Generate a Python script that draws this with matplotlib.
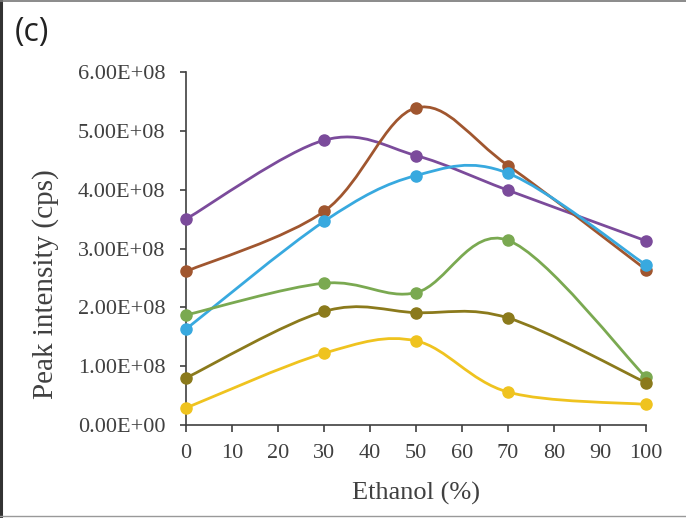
import numpy as np
import matplotlib
matplotlib.use("Agg")
import matplotlib.pyplot as plt
from matplotlib.path import Path
from matplotlib.patches import PathPatch
from matplotlib.lines import Line2D
from matplotlib.ticker import FuncFormatter, MultipleLocator

# ethanol content (%) and peak intensity (cps) for each series
ethanol = [0, 30, 50, 70, 100]
purple = [3.50e8, 4.84e8, 4.58e8, 3.99e8, 3.13e8]
brown = [2.61e8, 3.63e8, 5.39e8, 4.41e8, 2.64e8]
cyan = [1.63e8, 3.46e8, 4.24e8, 4.28e8, 2.72e8]
green = [1.87e8, 2.41e8, 2.25e8, 3.14e8, 0.81e8]
olive = [0.80e8, 1.93e8, 1.91e8, 1.82e8, 0.72e8]
yellow = [0.29e8, 1.22e8, 1.43e8, 0.56e8, 0.35e8]

series = [
    (purple, "#7b4b9b"),
    (brown, "#a0562f"),
    (cyan, "#38a9df"),
    (green, "#7aa951"),
    (olive, "#8b7a1c"),
    (yellow, "#efc31f"),
]

serif = ["Liberation Serif", "DejaVu Serif"]
axis_col = "#404040"


def smooth_path(xs, ys):
    # spreadsheet-style smoothed line: cubic bezier through each point
    p = np.column_stack([xs, ys]).astype(float)
    ext = np.vstack([p[0], p, p[-1]])
    verts = [p[0]]
    codes = [Path.MOVETO]
    for i in range(len(p) - 1):
        p0, p1, p2, p3 = ext[i], ext[i + 1], ext[i + 2], ext[i + 3]
        c1 = p1 + (p2 - p0) / 6.0
        c2 = p2 - (p3 - p1) / 6.0
        verts += [c1, c2, p2]
        codes += [Path.CURVE4] * 3
    return Path(verts, codes)


fig = plt.figure(figsize=(6.86, 5.18), dpi=100)
ax = fig.add_axes([0.2711, 0.1795, 0.6706, 0.6815])

for vals, col in series:
    ax.add_patch(PathPatch(smooth_path(ethanol, vals), facecolor="none",
                           edgecolor=col, lw=2.0, clip_on=False, zorder=2))
    ax.plot(ethanol, vals, "o", color=col, ms=8, mec=col, clip_on=False, zorder=3)

ax.set_xlim(0, 100)
ax.set_ylim(0, 6e8)
ax.xaxis.set_major_locator(MultipleLocator(10))
ax.yaxis.set_major_locator(MultipleLocator(1e8))
ax.yaxis.set_major_formatter(FuncFormatter(lambda v, pos: f"{v:.2E}"))

for side in ["top", "right"]:
    ax.spines[side].set_visible(False)
for side in ["left", "bottom"]:
    ax.spines[side].set_color(axis_col)
    ax.spines[side].set_linewidth(1.2)

ax.tick_params(axis="y", direction="out", length=4.5, width=1.2, color=axis_col,
               pad=10.5, labelsize=16, labelcolor=axis_col)
ax.tick_params(axis="x", direction="out", length=5, width=1.2, color=axis_col,
               pad=8.5, labelsize=16, labelcolor=axis_col)
for lab in ax.get_xticklabels() + ax.get_yticklabels():
    lab.set_family(serif)

ax.set_xlabel("Ethanol (%)", family=serif, fontsize=19, color=axis_col, va="center")
ax.set_ylabel("Peak intensity (cps)", family=serif, fontsize=21, color=axis_col, va="center")
ax.xaxis.set_label_coords(0.5, -0.193)
ax.yaxis.set_label_coords(-0.305, 0.40)

fig.text(0.022, 0.938, "(c)", family=["Open Sans", "DejaVu Sans"], fontsize=23,
         color="#222222", va="center", ha="left")

# frame around the panel
fig.add_artist(Line2D([0.0015, 0.0015], [0, 1], transform=fig.transFigure,
                      color="#333333", lw=2.2))
fig.add_artist(Line2D([0, 1], [0.998, 0.998], transform=fig.transFigure,
                      color="#777777", lw=1.2))
fig.add_artist(Line2D([0, 1], [0.004, 0.004], transform=fig.transFigure,
                      color="#999999", lw=1.0))

fig.savefig("out.png", dpi=100)
